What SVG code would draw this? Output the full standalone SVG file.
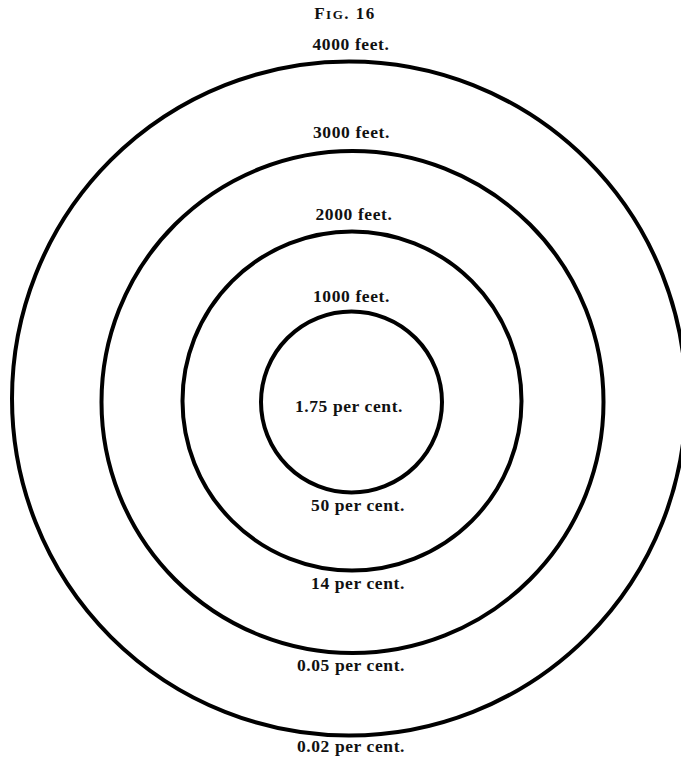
<svg xmlns="http://www.w3.org/2000/svg" width="681" height="760" viewBox="0 0 681 760">
<style>
.ring{fill:none;stroke:#000;stroke-width:4}
.t{font-family:"Liberation Serif","DejaVu Serif",serif;font-weight:bold;font-size:17.5px;letter-spacing:0.6px;fill:#111;text-anchor:middle}
</style>
<rect width="681" height="760" fill="#fff"/>
<text class="t" x="345" y="19" style="font-size:17px;letter-spacing:1.5px">F<tspan style="font-size:13px">IG</tspan>. 16</text>
<g id="ring4000">
<circle class="ring" cx="349" cy="398.5" r="337"/>
<text class="t" x="351" y="50">4000 feet.</text>
<text class="t" x="351" y="752">0.02 per cent.</text>
</g>
<g id="ring3000">
<circle class="ring" cx="352.5" cy="402" r="251"/>
<text class="t" x="351.5" y="138">3000 feet.</text>
<text class="t" x="351" y="671">0.05 per cent.</text>
</g>
<g id="ring2000">
<circle class="ring" cx="352" cy="401" r="169.5"/>
<text class="t" x="354" y="220">2000 feet.</text>
<text class="t" x="358" y="589">14 per cent.</text>
</g>
<g id="ring1000">
<circle class="ring" cx="351.5" cy="402" r="90.5"/>
<text class="t" x="351.5" y="302">1000 feet.</text>
<text class="t" x="349" y="412">1.75 per cent.</text>
<text class="t" x="358" y="511">50 per cent.</text>
</g>
</svg>
